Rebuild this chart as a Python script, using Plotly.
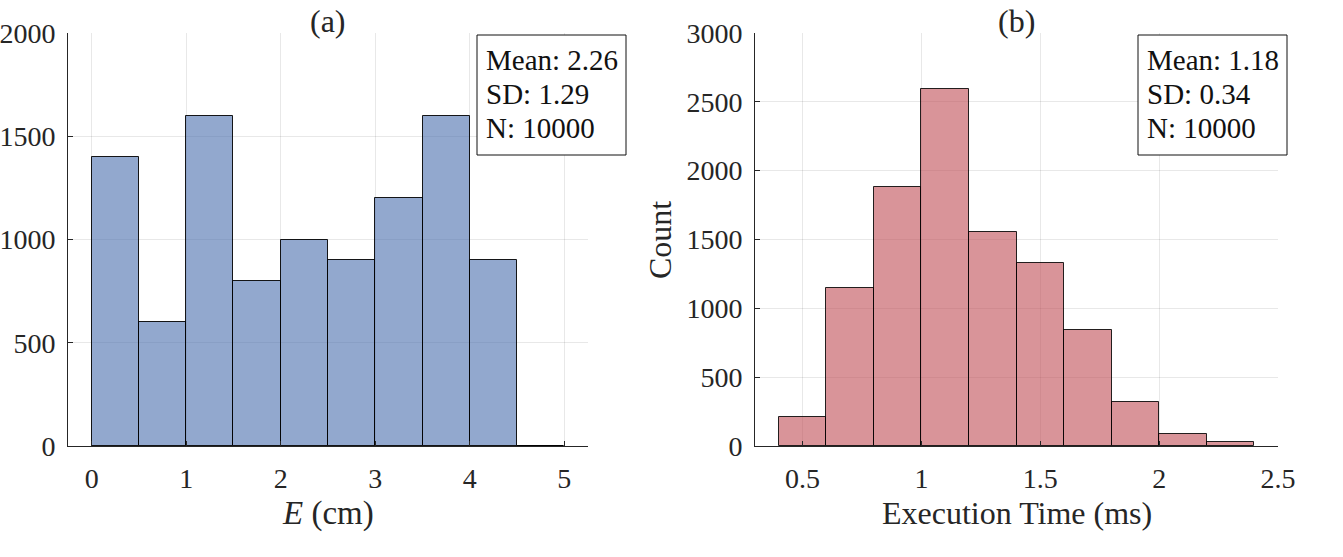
import plotly.graph_objects as go

# ---------------- data ----------------
a_bin_edges = [0, 0.5, 1, 1.5, 2, 2.5, 3, 3.5, 4, 4.5, 5]
a_counts = [1400, 600, 1600, 800, 1000, 900, 1200, 1600, 900, 0]
a_stats = ["Mean: 2.26", "SD: 1.29", "N: 10000"]

b_bin_edges = [0.4, 0.6, 0.8, 1.0, 1.2, 1.4, 1.6, 1.8, 2.0, 2.2, 2.4]
b_counts = [210, 1150, 1885, 2590, 1555, 1330, 840, 320, 90, 30]
b_stats = ["Mean: 1.18", "SD: 0.34", "N: 10000"]

a_xticks = [0, 1, 2, 3, 4, 5]
a_yticks = [0, 500, 1000, 1500, 2000]
b_xticks = [0.5, 1, 1.5, 2, 2.5]
b_xticklabels = ["0.5", "1", "1.5", "2", "2.5"]
b_yticks = [0, 500, 1000, 1500, 2000, 2500, 3000]

FONT = "Liberation Serif"
TXT = "#262626"
W, H = 1343, 557


def centers(edges):
    return [(edges[i] + edges[i + 1]) / 2 for i in range(len(edges) - 1)]


def widths(edges):
    return [edges[i + 1] - edges[i] for i in range(len(edges) - 1)]


fig = go.Figure()
fig.add_trace(go.Bar(
    x=centers(a_bin_edges), y=a_counts, width=widths(a_bin_edges),
    marker=dict(color="rgba(74,110,173,0.6)", line=dict(color="rgba(0,0,0,0.9)", width=1)),
    xaxis="x", yaxis="y", showlegend=False))
fig.add_trace(go.Bar(
    x=centers(b_bin_edges), y=b_counts, width=widths(b_bin_edges),
    marker=dict(color="rgba(192,77,85,0.6)", line=dict(color="rgba(0,0,0,0.85)", width=1)),
    xaxis="x2", yaxis="y2", showlegend=False))

# plot area pixel geometry
a_l, a_r = 68, 588
b_l, b_r = 755, 1278
p_t, p_b = 33, 446


def px(x):
    return x / W


def py(y):
    return 1 - y / H


ydom = [py(p_b), py(p_t)]

axis_common = dict(
    showline=True, linecolor=TXT, linewidth=1,
    ticks="inside", ticklen=5, tickcolor=TXT, tickwidth=1,
    showgrid=True, gridcolor="rgba(0,0,0,0.09)", gridwidth=1,
    zeroline=False, mirror=False, automargin=False,
    tickfont=dict(family=FONT, size=28, color=TXT),
)

fig.update_layout(
    width=W, height=H,
    margin=dict(l=0, r=0, t=0, b=0),
    paper_bgcolor="white", plot_bgcolor="white",
    bargap=0,
    xaxis=dict(domain=[px(a_l), px(a_r)], range=[-0.25, 5.25], ticklabelstandoff=7,
               tickvals=a_xticks, anchor="y", **axis_common),
    yaxis=dict(domain=ydom, range=[0, 2000], tickvals=a_yticks, anchor="x",
               ticklabelstandoff=6, **axis_common),
    xaxis2=dict(domain=[px(b_l), px(b_r)], range=[0.3, 2.5], ticklabelstandoff=7,
                tickvals=b_xticks, ticktext=b_xticklabels, anchor="y2", **axis_common),
    yaxis2=dict(domain=ydom, range=[0, 3000], tickvals=b_yticks, anchor="x2",
                ticklabelstandoff=6, **axis_common),
)

ann = []
shapes = []
# panel titles
for lab, l, r in (("(a)", a_l, a_r), ("(b)", b_l, b_r)):
    ann.append(dict(text=lab, x=px((l + r) / 2), y=py(1), xref="paper", yref="paper",
                    showarrow=False, font=dict(family=FONT, size=32, color=TXT),
                    xanchor="center", yanchor="top"))
# axis titles
ann.append(dict(text="<i>E</i> (cm)", x=px((a_l + a_r) / 2), y=py(513), xref="paper", yref="paper",
                showarrow=False, font=dict(family=FONT, size=33, color=TXT),
                xanchor="center", yanchor="middle"))
ann.append(dict(text="Execution Time (ms)", x=px((b_l + b_r) / 2), y=py(513), xref="paper", yref="paper",
                showarrow=False, font=dict(family=FONT, size=32, color=TXT),
                xanchor="center", yanchor="middle"))
ann.append(dict(text="Count", x=px(660), y=py(240), xref="paper", yref="paper", textangle=-90,
                showarrow=False, font=dict(family=FONT, size=32, color=TXT),
                xanchor="center", yanchor="middle"))

# stats boxes
for stats, bx0, bx1 in ((a_stats, 477, 626), (b_stats, 1138, 1287)):
    shapes.append(dict(type="rect", xref="paper", yref="paper",
                       x0=px(bx0), x1=px(bx1), y0=py(155), y1=py(35),
                       line=dict(color="#111111", width=1), fillcolor="white", layer="above"))
    for i, s in enumerate(stats):
        ann.append(dict(text=s, x=px(bx0 + 7), y=py(60 + 34 * i), xref="paper", yref="paper",
                        showarrow=False, align="left", xanchor="left", yanchor="middle",
                        font=dict(family=FONT, size=29, color="#111111")))

fig.update_layout(annotations=ann, shapes=shapes)

fig.write_html("out.html")
